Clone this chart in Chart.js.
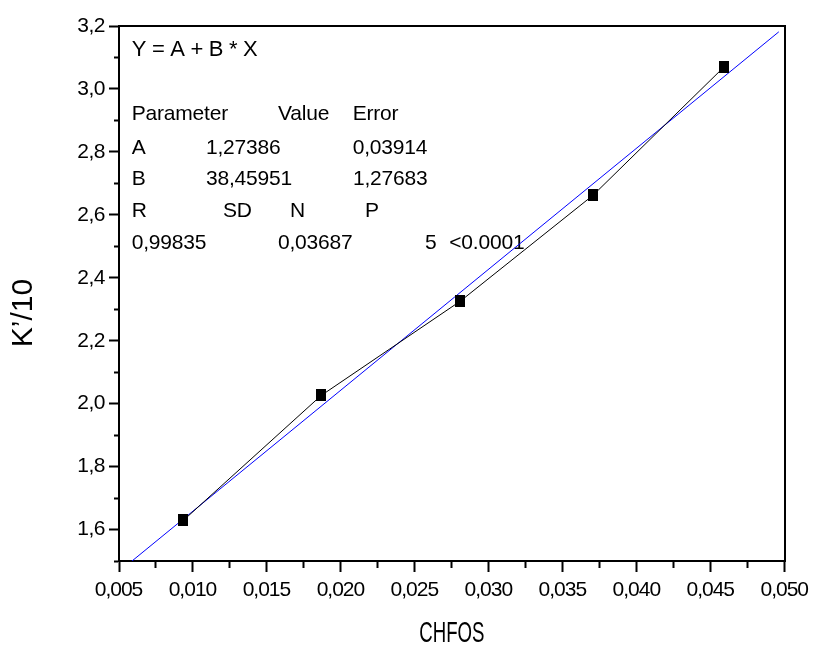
<!DOCTYPE html>
<html><head><meta charset="utf-8">
<script src="https://cdn.jsdelivr.net/npm/chart.js@4/dist/chart.umd.min.js"></script>
<style>html,body{margin:0;padding:0;background:#fff;}canvas{display:block;}</style>
</head><body>
<canvas id="c" width="817" height="652"></canvas>
<script>
// ---- data ----
const xValues = [0.00935, 0.01867, 0.02808, 0.03704, 0.0459];
const yValues = [1.629, 2.026, 2.326, 2.662, 3.070];
const fitA = 1.27386;
const fitB = 38.45951;
const fitXRange = [0.005, 0.0496];
const xMajorTicks = [0.005, 0.010, 0.015, 0.020, 0.025, 0.030, 0.035, 0.040, 0.045, 0.050];
const xTickLabels = ['0,005','0,010','0,015','0,020','0,025','0,030','0,035','0,040','0,045','0,050'];
const xMinorTicks = [0.0075, 0.0125, 0.0175, 0.0225, 0.0275, 0.0325, 0.0375, 0.0425, 0.0475];
const yMajorTicks = [1.6, 1.8, 2.0, 2.2, 2.4, 2.6, 2.8, 3.0, 3.2];
const yTickLabels = ['1,6','1,8','2,0','2,2','2,4','2,6','2,8','3,0','3,2'];
const yMinorTicks = [1.5, 1.7, 1.9, 2.1, 2.3, 2.5, 2.7, 2.9, 3.1];
const annotRows = [
  ['Y = A + B * X'],
  ['Parameter', 'Value', 'Error'],
  ['A', '1,27386', '0,03914'],
  ['B', '38,45951', '1,27683'],
  ['R', 'SD', 'N', 'P'],
  ['0,99835', '0,03687', '5', '<0.0001']
];
const xTitle = 'CHFOS';
const yTitle = 'K\u2019/10';

// ---- helpers ----
const FONT = 'Liberation Sans, Arial, sans-serif';
Chart.defaults.font.family = FONT;
Chart.defaults.color = '#000';

function buildTicks(majors, minors) {
  return majors.map(v => ({value: v, minor: false}))
    .concat(minors.map(v => ({value: v, minor: true})))
    .sort((a, b) => a.value - b.value);
}
function labelFor(v, majors, labels) {
  for (let i = 0; i < majors.length; i++) {
    if (Math.abs(majors[i] - v) < 1e-9) return labels[i];
  }
  return '';
}
function isMinor(c) { return !!(c && c.tick && c.tick.minor); }

const pointBox = document.createElement('canvas');
pointBox.width = 10; pointBox.height = 12;
(function(){ const g = pointBox.getContext('2d'); g.fillStyle = '#000'; g.fillRect(0, 0, 10, 12); })();

// annotation text block (pixel offsets from chart area top-left)
const annotPlugin = {
  id: 'annot',
  beforeDatasetsDraw(chart) {
    const {ctx, chartArea} = chart;
    const cols = [
      [12.7],
      [12.7, 159, 233.7],
      [12.7, 87, 233.7],
      [12.7, 87, 234],
      [12.7, 104, 171, 246],
      [12.7, 159, 306, 330.3]
    ];
    const base = [30, 94.3, 127.6, 159.3, 191, 222.6];
    const sizes = [22, 21, 21, 21, 21, 21];
    ctx.save();
    ctx.fillStyle = '#000';
    ctx.textAlign = 'left';
    ctx.textBaseline = 'alphabetic';
    annotRows.forEach((row, r) => {
      ctx.font = sizes[r] + 'px ' + FONT;
      ctx.letterSpacing = r === 0 ? '-0.3px' : '-0.2px';
      row.forEach((txt, k) => {
        ctx.fillText(txt, chartArea.left + cols[r][k], chartArea.top + base[r]);
      });
    });
    ctx.restore();
  }
};

const titlePatch = {
  id: 'titlePatch',
  beforeDraw(chart) {
    const sx = chart.scales.x, sy = chart.scales.y;
    if (sx && !sx.__p) {
      const o = sx.drawTitle;
      sx.drawTitle = function() {
        const c = this.ctx; const cx = (this.left + this.right) / 2;
        c.save(); c.translate(cx, 0); c.scale(0.62, 1); c.translate(-cx, 0);
        o.call(this); c.restore();
      };
      const ol = sx.drawLabels;
      sx.drawLabels = function(a) {
        const c = this.ctx; c.save(); c.letterSpacing = '-1px'; c.translate(-0.5, 0); ol.call(this, a); c.restore();
      };
      sx.__p = true;
    }
    if (sy && !sy.__p) {
      const o = sy.drawTitle;
      sy.drawTitle = function() {
        const c = this.ctx; c.save(); c.translate(0, 19.5); o.call(this); c.restore();
      };
      const ol = sy.drawLabels;
      sy.drawLabels = function(a) {
        const c = this.ctx; c.save(); c.letterSpacing = '-0.5px'; ol.call(this, a); c.restore();
      };
      sy.__p = true;
    }
  }
};

new Chart(document.getElementById('c'), {
  type: 'scatter',
  data: {
    datasets: [
      {
        label: 'K\u2019/10',
        data: xValues.map((x, i) => ({x: x, y: yValues[i]})),
        showLine: true,
        borderColor: '#000',
        borderWidth: 1,
        backgroundColor: '#000',
        pointStyle: pointBox,
        pointRadius: 5,
        tension: 0,
        order: 0
      },
      {
        label: 'Linear fit',
        data: fitXRange.map(x => ({x: x, y: fitA + fitB * x})),
        showLine: true,
        borderColor: '#0000ff',
        borderWidth: 1,
        pointRadius: 0,
        tension: 0,
        order: 1
      }
    ]
  },
  options: {
    responsive: false,
    animation: false,
    layout: {padding: {left: 0, top: 26, right: 28, bottom: 0}},
    plugins: {legend: {display: false}, tooltip: {enabled: false}},
    scales: {
      x: {
        type: 'linear', position: 'bottom', min: 0.005, max: 0.05,
        afterFit: s => { s.height = 91; },
        afterBuildTicks: s => { s.ticks = buildTicks(xMajorTicks, xMinorTicks); },
        ticks: {
          autoSkip: false, maxRotation: 0, minRotation: 0, padding: 6, color: '#000',
          font: {size: 21, family: FONT},
          callback: v => labelFor(v, xMajorTicks, xTickLabels)
        },
        grid: {
          drawOnChartArea: false, drawTicks: true, tickLength: 11, tickWidth: 2, tickColor: '#000',
          tickBorderDash: c => isMinor(c) ? [6, 100] : [],
          tickBorderDashOffset: 0
        },
        border: {display: true, color: '#000', width: 2},
        title: {display: true, text: xTitle, color: '#000', font: {size: 30, family: FONT, lineHeight: 1}, padding: {top: 3, bottom: 3}}
      },
      y: {
        type: 'linear', position: 'left', min: 1.5, max: 3.2,
        afterFit: s => { s.width = 119; },
        afterBuildTicks: s => { s.ticks = buildTicks(yMajorTicks, yMinorTicks); },
        ticks: {
          autoSkip: false, padding: 4, color: '#000',
          font: {size: 21, family: FONT},
          callback: v => labelFor(v, yMajorTicks, yTickLabels)
        },
        grid: {
          drawOnChartArea: false, drawTicks: true, tickLength: 10, tickWidth: 2, tickColor: '#000',
          tickBorderDash: c => isMinor(c) ? [5, 100] : [],
          tickBorderDashOffset: c => isMinor(c) ? 100 : 0
        },
        border: {display: true, color: '#000', width: 2},
        title: {display: true, text: yTitle, color: '#000', font: {size: 30, family: FONT, lineHeight: 1}, padding: {top: 8.5, bottom: 8.5}}
      },
      xTop: {
        type: 'linear', position: 'top', min: 0.005, max: 0.05,
        afterFit: s => { s.height = 0; },
        ticks: {display: false},
        grid: {drawOnChartArea: false, drawTicks: false},
        border: {display: true, color: '#000', width: 2}
      },
      yRight: {
        type: 'linear', position: 'right', min: 1.5, max: 3.2,
        afterFit: s => { s.width = 0; },
        ticks: {display: false},
        grid: {drawOnChartArea: false, drawTicks: false},
        border: {display: true, color: '#000', width: 2}
      }
    }
  },
  plugins: [annotPlugin, titlePatch]
});
</script>
</body></html>
